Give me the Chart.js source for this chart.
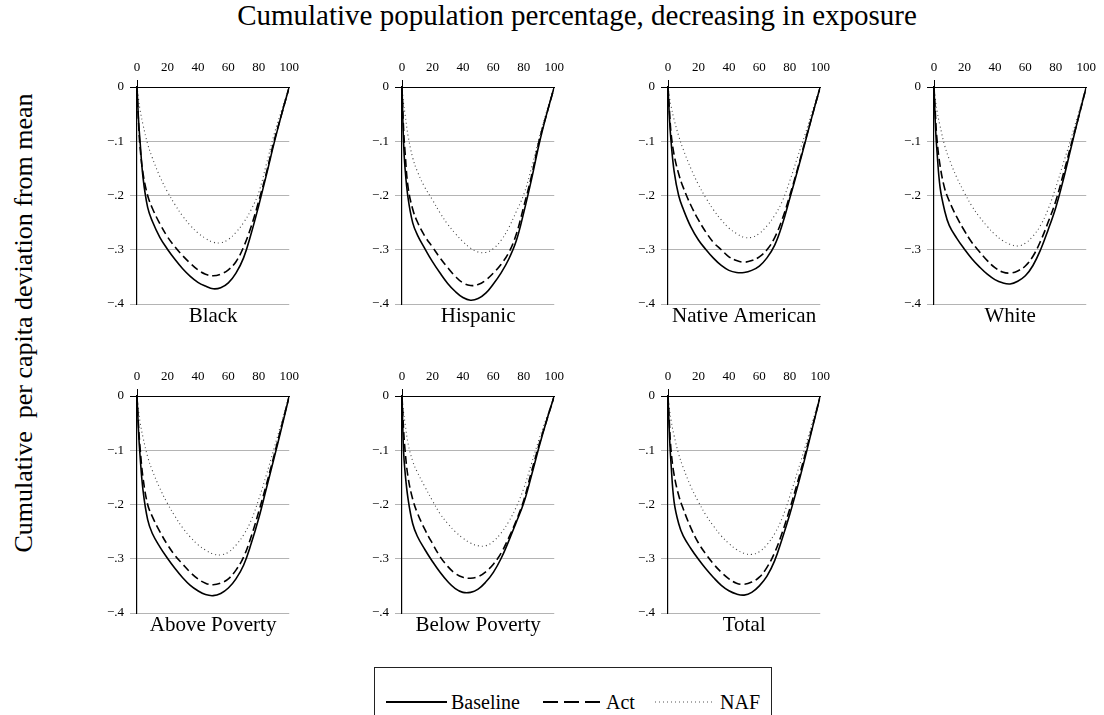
<!DOCTYPE html>
<html>
<head>
<meta charset="utf-8">
<script src="https://cdn.jsdelivr.net/npm/chart.js@4.4.1/dist/chart.umd.min.js"></script>
<style>
  html, body { margin:0; padding:0; background:#fff; }
  body { width:1104px; height:715px; overflow:hidden; position:relative; font-family:'Liberation Serif', 'Times New Roman', serif; color:#000; }
  canvas.panel { position:absolute; }
  #title { position:absolute; left:577px; top:1px; transform:translateX(-50%); white-space:nowrap; font-size:29px; line-height:29px; }
  #ytitle { position:absolute; left:24px; top:323px; transform:translate(-50%,-50%) rotate(-90deg); white-space:pre; font-size:26px; line-height:26px; }
  #legendBox { position:absolute; left:374px; top:667px; width:398px; height:70px; border:1px solid #222; box-sizing:border-box; }
  .ltxt { position:absolute; top:692px; font-size:20px; line-height:20px; white-space:nowrap; }
  #lsvg { position:absolute; left:0; top:0; }
</style>
</head>
<body>
<div id="title">Cumulative population percentage, decreasing in exposure</div>
<div id="ytitle">Cumulative  per capita deviation from mean</div>
<div id="legendBox"></div>
<svg id="lsvg" width="1104" height="715">
  <line x1="386" y1="702" x2="447" y2="702" stroke="#000" stroke-width="2"/>
  <line x1="543" y1="702" x2="602" y2="702" stroke="#000" stroke-width="2" stroke-dasharray="15 6"/>
  <line x1="655" y1="702" x2="713" y2="702" stroke="#555" stroke-width="1.2" stroke-dasharray="1 3"/>
</svg>
<div class="ltxt" style="left:451px">Baseline</div>
<div class="ltxt" style="left:606px">Act</div>
<div class="ltxt" style="left:720px">NAF</div>

<script>
const FONT = "'Liberation Serif', 'Times New Roman', serif";
Chart.defaults.font.family = FONT;

// Cumulative population percentage (x values)
const pct = [0,1,2,4,7,10,15,20,25,30,35,40,45,50,55,60,65,70,75,80,85,90,95,100];
const xTicks = [0,20,40,60,80,100];
const yTicks = [-0.4,-0.3,-0.2,-0.1,0];
const yTickLabels = ['\u2212.4','\u2212.3','\u2212.2','\u2212.1','0'];

const panelNames = ['Black','Hispanic','Native American','White','Above Poverty','Below Poverty','Total'];
const seriesNames = ['Baseline','Act','NAF'];

const blackBase = [0,-0.06,-0.10,-0.168,-0.222,-0.247,-0.277,-0.299,-0.318,-0.335,-0.349,-0.36,-0.367,-0.372,-0.37,-0.361,-0.343,-0.315,-0.27,-0.218,-0.162,-0.104,-0.05,0];
const blackAct  = [0,-0.065,-0.11,-0.16,-0.20,-0.223,-0.252,-0.276,-0.295,-0.311,-0.325,-0.337,-0.345,-0.348,-0.345,-0.337,-0.322,-0.295,-0.257,-0.21,-0.158,-0.10,-0.05,0];
const blackNaf  = [0,-0.022,-0.042,-0.07,-0.105,-0.13,-0.165,-0.193,-0.217,-0.238,-0.255,-0.269,-0.279,-0.286,-0.287,-0.281,-0.268,-0.25,-0.226,-0.194,-0.142,-0.088,-0.043,0];

const hispBase = [0,-0.10,-0.15,-0.205,-0.25,-0.272,-0.298,-0.322,-0.343,-0.362,-0.377,-0.388,-0.393,-0.39,-0.38,-0.363,-0.343,-0.318,-0.284,-0.231,-0.171,-0.106,-0.05,0];
const hispAct  = [0,-0.075,-0.12,-0.185,-0.225,-0.248,-0.275,-0.295,-0.315,-0.333,-0.349,-0.361,-0.366,-0.364,-0.356,-0.343,-0.327,-0.306,-0.272,-0.22,-0.165,-0.10,-0.05,0];
const hispNaf  = [0,-0.03,-0.05,-0.09,-0.13,-0.155,-0.185,-0.208,-0.232,-0.253,-0.27,-0.285,-0.297,-0.304,-0.305,-0.298,-0.283,-0.26,-0.23,-0.198,-0.15,-0.095,-0.045,0];

const natBase = [0,-0.06,-0.10,-0.155,-0.20,-0.225,-0.258,-0.282,-0.30,-0.316,-0.329,-0.338,-0.342,-0.342,-0.338,-0.33,-0.315,-0.292,-0.254,-0.205,-0.155,-0.103,-0.05,0];
const natAct  = [0,-0.045,-0.085,-0.125,-0.16,-0.185,-0.218,-0.245,-0.268,-0.287,-0.30,-0.313,-0.32,-0.323,-0.32,-0.313,-0.3,-0.278,-0.244,-0.20,-0.152,-0.10,-0.05,0];
const natNaf  = [0,-0.02,-0.035,-0.06,-0.09,-0.115,-0.15,-0.18,-0.205,-0.227,-0.245,-0.26,-0.27,-0.277,-0.277,-0.27,-0.256,-0.237,-0.211,-0.173,-0.13,-0.088,-0.043,0];

const whiteBase = [0,-0.075,-0.12,-0.185,-0.228,-0.255,-0.279,-0.299,-0.317,-0.332,-0.345,-0.355,-0.361,-0.363,-0.358,-0.348,-0.329,-0.30,-0.263,-0.222,-0.17,-0.112,-0.055,0];
const whiteAct  = [0,-0.055,-0.098,-0.145,-0.187,-0.21,-0.24,-0.265,-0.287,-0.304,-0.32,-0.333,-0.341,-0.343,-0.339,-0.33,-0.312,-0.284,-0.249,-0.21,-0.16,-0.107,-0.055,0];
const whiteNaf  = [0,-0.025,-0.045,-0.072,-0.108,-0.133,-0.167,-0.195,-0.22,-0.24,-0.257,-0.272,-0.283,-0.29,-0.293,-0.288,-0.275,-0.255,-0.225,-0.185,-0.14,-0.095,-0.047,0];

const aboveBase = [0,-0.065,-0.11,-0.175,-0.228,-0.253,-0.278,-0.299,-0.318,-0.335,-0.349,-0.359,-0.366,-0.368,-0.364,-0.354,-0.337,-0.312,-0.272,-0.225,-0.17,-0.115,-0.058,0];
const aboveAct  = [0,-0.055,-0.095,-0.152,-0.20,-0.222,-0.25,-0.274,-0.294,-0.31,-0.325,-0.337,-0.345,-0.348,-0.345,-0.337,-0.321,-0.297,-0.259,-0.213,-0.163,-0.11,-0.055,0];
const aboveNaf  = [0,-0.027,-0.048,-0.077,-0.112,-0.137,-0.17,-0.198,-0.222,-0.243,-0.26,-0.274,-0.284,-0.291,-0.293,-0.288,-0.275,-0.256,-0.229,-0.19,-0.145,-0.097,-0.048,0];

const belowBase = [0,-0.10,-0.14,-0.19,-0.235,-0.258,-0.283,-0.305,-0.325,-0.342,-0.355,-0.362,-0.362,-0.356,-0.343,-0.325,-0.30,-0.268,-0.233,-0.197,-0.147,-0.094,-0.045,0];
const belowAct  = [0,-0.06,-0.10,-0.15,-0.19,-0.215,-0.246,-0.272,-0.296,-0.314,-0.327,-0.334,-0.336,-0.333,-0.324,-0.31,-0.29,-0.262,-0.23,-0.192,-0.14,-0.09,-0.045,0];
const belowNaf  = [0,-0.03,-0.05,-0.088,-0.12,-0.14,-0.167,-0.193,-0.217,-0.235,-0.25,-0.262,-0.271,-0.276,-0.276,-0.268,-0.253,-0.232,-0.205,-0.17,-0.125,-0.08,-0.04,0];

const totalBase = [0,-0.075,-0.125,-0.195,-0.235,-0.258,-0.281,-0.301,-0.319,-0.335,-0.349,-0.359,-0.365,-0.367,-0.362,-0.35,-0.332,-0.304,-0.263,-0.218,-0.168,-0.114,-0.057,0];
const totalAct  = [0,-0.055,-0.10,-0.145,-0.183,-0.208,-0.243,-0.271,-0.292,-0.31,-0.325,-0.337,-0.345,-0.347,-0.343,-0.334,-0.316,-0.289,-0.252,-0.208,-0.16,-0.108,-0.055,0];
const totalNaf  = [0,-0.025,-0.045,-0.073,-0.107,-0.132,-0.167,-0.195,-0.22,-0.24,-0.258,-0.272,-0.283,-0.29,-0.292,-0.287,-0.274,-0.254,-0.225,-0.185,-0.14,-0.095,-0.047,0];

const panelSeries = [
  [blackBase, blackAct, blackNaf],
  [hispBase, hispAct, hispNaf],
  [natBase, natAct, natNaf],
  [whiteBase, whiteAct, whiteNaf],
  [aboveBase, aboveAct, aboveNaf],
  [belowBase, belowAct, belowNaf],
  [totalBase, totalAct, totalNaf]
];

// layout of the 4x2 grid (chart-area left / top edges)
const colLeft = [137, 402, 668, 934];
const rowTop = [87, 396];
const Y_AXIS_W = 40, X_AXIS_H = 30, RIGHT_PAD = 12, AREA_W = 155, AREA_H = 217, LABEL_H = 23;

const styles = [
  { borderColor:'#000', borderWidth:1.6, borderDash:[] },
  { borderColor:'#000', borderWidth:1.6, borderDash:[8,4] },
  { borderColor:'#444', borderWidth:1.1, borderDash:[1,3] }
];

function makePanel(idx) {
  const col = idx % 4, row = Math.floor(idx / 4);
  const cv = document.createElement('canvas');
  cv.className = 'panel';
  cv.width = Y_AXIS_W + AREA_W + RIGHT_PAD;
  cv.height = X_AXIS_H + AREA_H + LABEL_H;
  cv.style.left = (colLeft[col] - Y_AXIS_W) + 'px';
  cv.style.top = (rowTop[row] - X_AXIS_H) + 'px';
  document.body.appendChild(cv);

  const datasets = panelSeries[idx].map((vals, s) => Object.assign({
    label: seriesNames[s],
    data: pct.map((x, i) => ({ x: x, y: vals[i] })),
    pointRadius: 0,
    fill: false,
    tension: 0.4
  }, styles[s]));

  new Chart(cv, {
    type: 'line',
    data: { datasets: datasets },
    options: {
      responsive: false,
      animation: false,
      devicePixelRatio: 1,
      layout: { padding: { left: 0, right: RIGHT_PAD, top: 0, bottom: 0 } },
      plugins: {
        legend: { display: false },
        tooltip: { enabled: false },
        title: {
          display: true, position: 'bottom', fullSize: false,
          text: panelNames[idx], color: '#000',
          font: { family: FONT, size: 21, weight: 'normal', lineHeight: '21px' },
          padding: { top: 2, bottom: 0 }
        }
      },
      scales: {
        x: {
          type: 'linear', position: 'top', min: 0, max: 100,
          afterBuildTicks: s => { s.ticks = xTicks.map(v => ({ value: v })); },
          afterFit: s => { s.height = X_AXIS_H; },
          ticks: { color: '#000', font: { family: FONT, size: 13 }, padding: 5, maxRotation: 0, autoSkip: false },
          grid: { drawOnChartArea: false, drawTicks: true, tickLength: 7,
                  tickColor: c => (c.tick && c.tick.value === 0) ? '#000' : 'rgba(0,0,0,0)' },
          border: { color: '#000', width: 1 }
        },
        y: {
          type: 'linear', min: -0.4, max: 0,
          afterBuildTicks: s => { s.ticks = yTicks.map(v => ({ value: v })); },
          afterFit: s => { s.width = Y_AXIS_W; },
          ticks: { color: '#000', font: { family: FONT, size: 13 }, padding: 6,
                   callback: (v, i) => yTickLabels[i] },
          grid: { color: c => (c.tick && c.tick.value === 0) ? '#000' : '#b4b4b4', lineWidth: 1,
                  drawTicks: true, tickLength: 7,
                  tickColor: c => (c.tick && c.tick.value === 0) ? '#000' : '#b4b4b4' },
          border: { color: '#000', width: 1.2 }
        }
      }
    }
  });
}

for (let i = 0; i < panelNames.length; i++) makePanel(i);
</script>
</body>
</html>
